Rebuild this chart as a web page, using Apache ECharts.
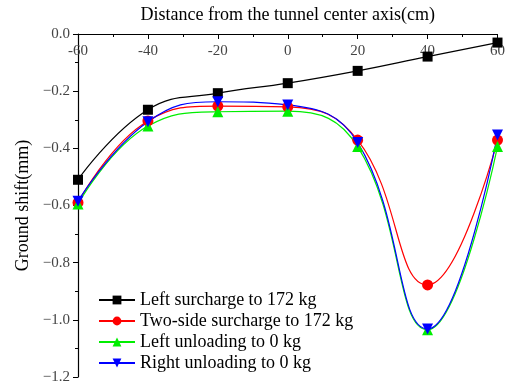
<!DOCTYPE html>
<html><head><meta charset="utf-8">
<script src="https://cdn.jsdelivr.net/npm/echarts@6/dist/echarts.min.js"></script>
<style>html,body{margin:0;padding:0;background:#fff}#c{width:508px;height:385px}</style>
</head><body><div id="c"></div>
<script>
const xCats = [-60, -40, -20, 0, 20, 40, 60];
const leftSurcharge = [-0.51, -0.265, -0.207, -0.172, -0.129, -0.079, -0.030];
const twoSideSurcharge = [-0.59, -0.304, -0.252, -0.255, -0.371, -0.878, -0.371];
const leftUnloading = [-0.595, -0.322, -0.272, -0.270, -0.394, -1.035, -0.394];
const rightUnloading = [-0.585, -0.307, -0.237, -0.248, -0.380, -1.032, -0.353];
const seriesNames = ['Left surcharge to 172 kg','Two-side surcharge to 172 kg','Left unloading to 0 kg','Right unloading to 0 kg'];
const xName = 'Distance from the tunnel center axis(cm)';
const yName = 'Ground shift(mm)';

const FONT = 'Liberation Serif';
function mk(name, data, color, symbol, rot) {
  return {
    name, type: 'line', smooth: 0.45,
    data: xCats.map((x, i) => [x, data[i]]),
    symbol, symbolSize: symbol === 'rect' ? 10 : 11, symbolRotate: rot || 0,
    lineStyle: { color, width: 1.2 }, itemStyle: { color },
    clip: false
  };
}
const chart = echarts.init(document.getElementById('c'));
chart.setOption({
  animation: false,
  grid: { left: 78, top: 34, right: 4, bottom: 8 },
  xAxis: {
    type: 'value', position: 'top', min: -60, max: 60, interval: 20,
    name: xName, nameLocation: 'middle', nameGap: 10,
    nameTextStyle: { fontFamily: FONT, fontSize: 18, color: '#000' },
    axisLine: { onZero: false, lineStyle: { color: '#000', width: 1.2 } },
    axisTick: { inside: true, length: 5, lineStyle: { color: '#000' } },
    minorTick: { show: true, splitNumber: 2, length: 3, lineStyle: { color: '#000' } },
    axisLabel: { inside: true, margin: 10, fontFamily: FONT, fontSize: 15, color: '#444' },
    splitLine: { show: false }
  },
  yAxis: {
    type: 'value', min: -1.2, max: 0, interval: 0.2,
    name: yName, nameLocation: 'middle', nameGap: 40, nameRotate: 90,
    nameTextStyle: { fontFamily: FONT, fontSize: 18, color: '#000' },
    axisLine: { onZero: false, lineStyle: { color: '#000', width: 1.2 } },
    axisTick: { inside: false, length: 5, lineStyle: { color: '#000' } },
    minorTick: { show: true, splitNumber: 2, length: 3, lineStyle: { color: '#000' } },
    axisLabel: { margin: 8, fontFamily: FONT, fontSize: 15, color: '#444',
      formatter: v => { const s = Math.abs(v).toFixed(1); return (v < -1e-9 ? '\u2212' : '') + s; } },
    splitLine: { show: false }
  },
  legend: {
    orient: 'vertical', left: 93, top: 286, itemGap: 3, itemWidth: 36, itemHeight: 11,
    textStyle: { fontFamily: FONT, fontSize: 18, color: '#000' },
    data: seriesNames
  },
  series: [
    mk(seriesNames[0], leftSurcharge, '#000000', 'rect'),
    mk(seriesNames[1], twoSideSurcharge, '#ff0000', 'circle'),
    mk(seriesNames[2], leftUnloading, '#00ee00', 'triangle'),
    mk(seriesNames[3], rightUnloading, '#0000ff', 'triangle', 180)
  ]
});
</script></body></html>
